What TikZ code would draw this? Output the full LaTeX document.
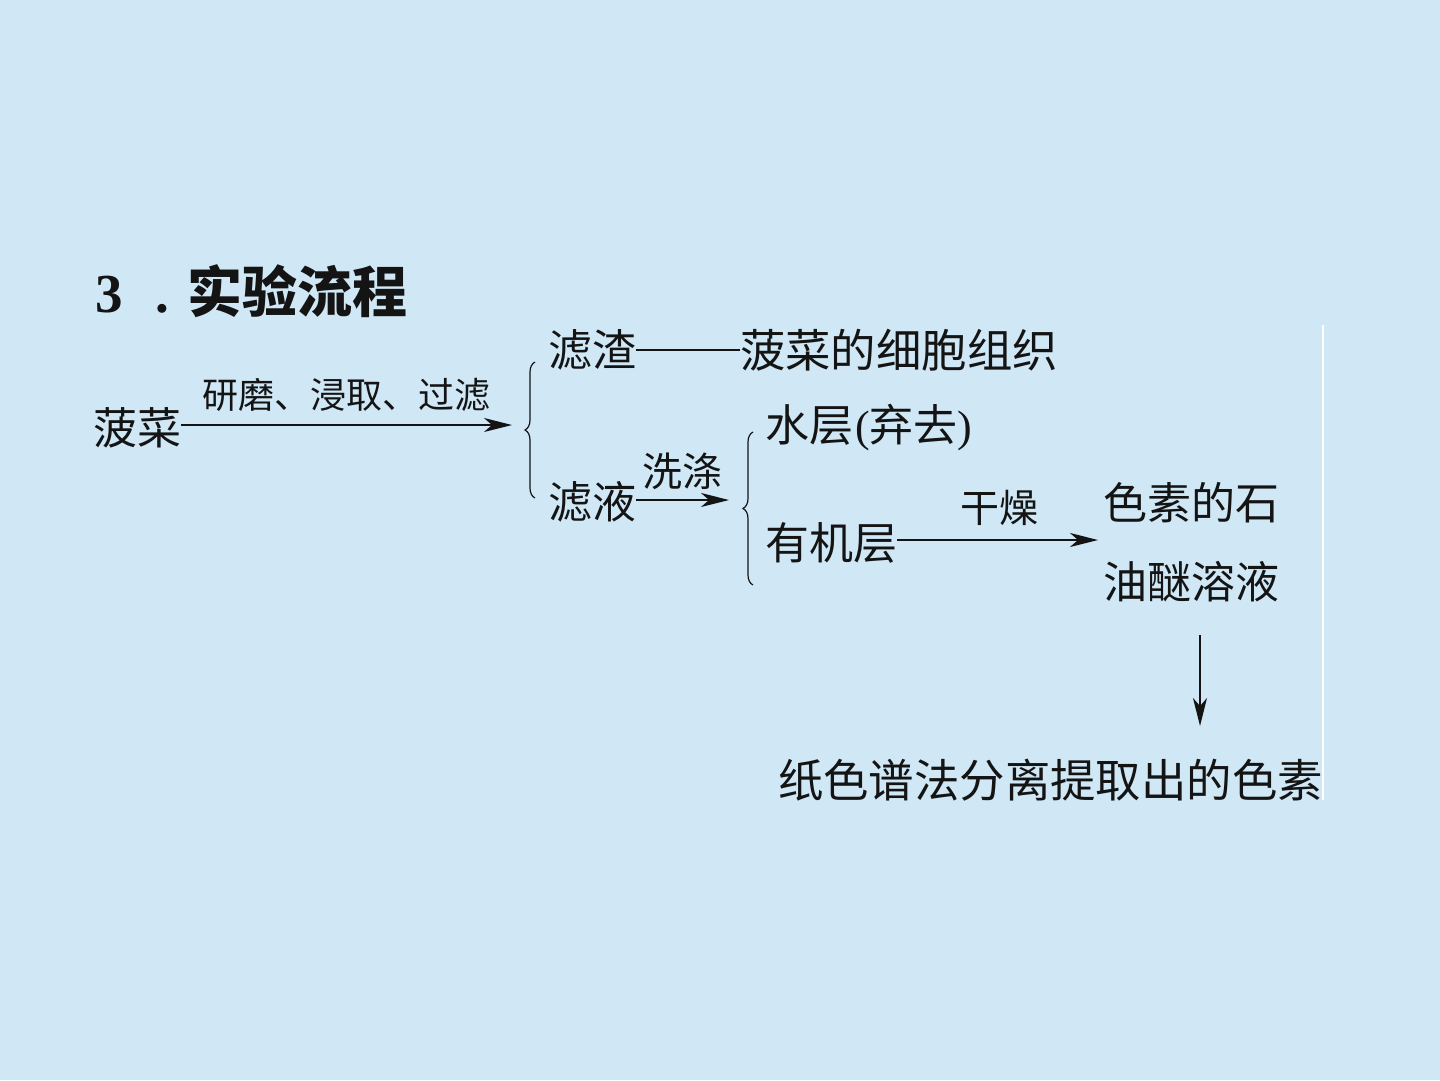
\documentclass[tikz,border=0pt]{standalone}
\usepackage{fontspec}
\setmainfont{Liberation Serif}
\newfontfamily\cjk{Noto Sans CJK SC}
\usetikzlibrary{arrows.meta,decorations.pathreplacing}
\definecolor{bgblue}{RGB}{208,231,246}
\definecolor{ink}{RGB}{20,20,20}
\tikzset{
  txt/.style={anchor=west,inner sep=0pt,outer sep=0pt,text=ink,font=\cjk\fontsize{44}{50}\selectfont},
  txtw/.style={txt,font=\cjk\fontsize{45.4}{50}\selectfont},
  lbl/.style={inner sep=0pt,text=ink,font=\cjk\fontsize{36}{40}\selectfont},
  arr/.style={draw=ink,line width=1.5pt,-{Stealth[length=28pt,width=14pt,inset=8pt]}},
  ln/.style={draw=ink,line width=1.4pt},
  brc/.style={draw=ink,line width=1.2pt,decorate,decoration={brace,amplitude=10pt}}
}
\begin{document}
\begin{tikzpicture}[x=1pt,y=-1pt]
\fill[bgblue] (0,0) rectangle (1440,1080);
\useasboundingbox (0,0) rectangle (1440,1080);
% faint white edge line
\draw[white,line width=1.5pt] (1323,325) -- (1323,800);
% title
\node[anchor=base west,inner sep=0pt,text=ink] (title) at (95,312)
  {\fontsize{55}{60}\selectfont\bfseries 3\hspace{33pt}.\hspace{18pt}{\cjk 实验流程}};
% nodes
\node[txt] (bocai) at (93,428) {菠菜};
\node[txt] (luzha) at (548,350) {滤渣};
\node[txtw] (tissue) at (740,350) {菠菜的细胞组织};
\node[txt] (luye) at (548,502) {滤液};
\node[txt] (water) at (765,428) {水层{\rmfamily\hspace{2pt}(}弃去{\rmfamily)}};
\node[txt] (organic) at (765,543) {有机层};
\node[txt] (sol1) at (1103,503) {色素的石};
\node[txt] (sol2) at (1103,582) {油醚溶液};
\node[txtw] (final) at (778,780) {纸色谱法分离提取出的色素};
% coordinates
\coordinate (b1top) at (535,362);
\coordinate (b1bot) at (535,498);
\coordinate (b2top) at (753,432);
\coordinate (b2bot) at (753,585);
\coordinate (a1end) at (512,425);
\coordinate (a2end) at (729,500);
\coordinate (a3end) at (1098,540);
\coordinate (dtop) at (1200,635);
\coordinate (dbot) at (1200,726);
% braces
\draw[brc] (b1bot) -- (b1top);
\draw[brc] (b2bot) -- (b2top);
% connectors
\draw[arr] (bocai.east) ++(0,-3) coordinate (a1start) -- (a1start -| a1end) node[lbl,midway,above=13pt] (l1) {研磨、浸取、过滤};
\draw[ln] (luzha.east) -- (tissue.west);
\draw[arr] (luye.east) ++(0,-2) coordinate (a2start) -- (a2start -| a2end) node[lbl,midway,above=10pt,font=\cjk\fontsize{40}{44}\selectfont] (l2) {洗涤};
\draw[arr] (organic.east) ++(0,-3) coordinate (a3start) -- (a3start -| a3end) node[lbl,pos=0.5,above=14pt,xshift=2pt,font=\cjk\fontsize{39}{44}\selectfont] (l3) {干燥};
\draw[arr] (dtop) -- (dbot);
\end{tikzpicture}
\end{document}
